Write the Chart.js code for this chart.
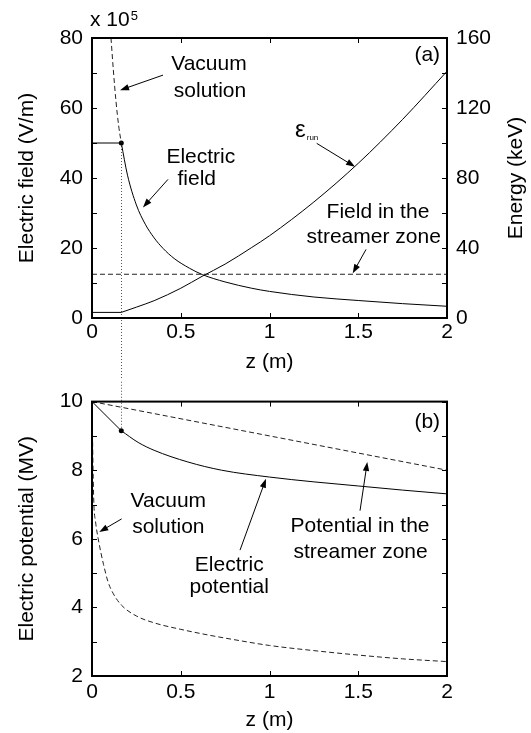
<!DOCTYPE html>
<html>
<head>
<meta charset="utf-8">
<script src="https://cdn.jsdelivr.net/npm/chart.js@4.4.1/dist/chart.umd.min.js"></script>
<style>
  html, body { margin: 0; padding: 0; background: #fff; }
  #wrap { position: relative; width: 531px; height: 733px; }
  canvas { position: absolute; left: 0; }
  #fieldChart { top: 0; }
  #potentialChart { top: 380px; }
</style>
</head>
<body>
<div id="wrap">
  <canvas id="fieldChart" width="531" height="380"></canvas>
  <canvas id="potentialChart" width="531" height="353"></canvas>
</div>
<script>
const zTicks = [0, 0.5, 1, 1.5, 2];
const fieldTicks = [0, 20, 40, 60, 80];
const energyTicks = [0, 40, 80, 120, 160];
const potentialTicks = [2, 4, 6, 8, 10];

// streamer tip position (m)
const zTip = 0.165;

// (a) electric field, x 10^5 V/m
const zPlateau = [0, zTip];
const fieldPlateau = [50, 50];
const zFieldDecay = [0.165, 0.2, 0.25, 0.3, 0.35, 0.4, 0.463, 0.55, 0.622, 0.75, 0.9, 1.0, 1.25, 1.5, 1.75, 2.0];
const fieldDecay = [50, 40.8, 32.3, 26.8, 22.9, 19.9, 17.0, 14.2, 12.4, 10.3, 8.5, 7.6, 6.0, 5.0, 4.1, 3.35];
const zVacuumField = [0.107, 0.12, 0.135, 0.15, 0.165];
const vacuumField = [80, 71, 62, 55, 50];
const zStreamer = [0, 2];
const streamerField = [12.5, 12.5];

// (a) runaway energy, keV
const energyPlateau = [3.2, 3.2];
const zEnergy = [0.165, 0.25, 0.35, 0.5, 0.62, 0.75, 0.9, 1.0, 1.25, 1.5, 1.75, 2.0];
const energy = [3.2, 6.2, 9.9, 17, 23.8, 30.8, 40.3, 47, 66.3, 88.4, 113.5, 141];

// (b) electric potential, MV
const potentialLinear = [10, 9.15];
const zPotential = [0.165, 0.26, 0.35, 0.54, 0.73, 1.0, 1.25, 1.5, 1.75, 2.0];
const potential = [9.15, 8.81, 8.58, 8.24, 8.0, 7.8, 7.66, 7.54, 7.42, 7.31];
const streamerPotential = [10, 8];
const zVacuumPotential = [0, 0.004, 0.01, 0.02, 0.035, 0.05, 0.065, 0.09, 0.12, 0.165, 0.25, 0.35, 0.5, 0.65, 0.8, 1.0, 1.25, 1.5, 1.75, 2.0];
const vacuumPotential = [10, 8.6, 7.1, 6.5, 6.0, 5.6, 5.25, 4.75, 4.4, 4.07, 3.75, 3.55, 3.36, 3.2, 3.06, 2.89, 2.74, 2.61, 2.5, 2.42];

const FONT = '"Liberation Sans", Arial, Helvetica, sans-serif';
const font = { family: FONT, size: 21 };

const pts = (xs, ys) => xs.map((x, i) => ({ x, y: ys[i] }));
const withMinor = t => t.flatMap((v, i) => i ? [(t[i - 1] + v) / 2, v] : [v]);

function line(xs, ys, extra) {
    return Object.assign({
        data: pts(xs, ys), borderColor: "#000", borderWidth: 1, pointRadius: 0,
        fill: false, cubicInterpolationMode: "monotone"
    }, extra);
}
const dashed = { borderDash: [5, 3], borderColor: "#222" };

function arrow(ctx, x1, y1, x2, y2) {
    const ang = Math.atan2(y2 - y1, x2 - x1), len = 9, half = 3.2;
    const c = Math.cos(ang), s = Math.sin(ang);
    ctx.beginPath();
    ctx.moveTo(x1, y1);
    ctx.lineTo(x2 - c * len * 0.7, y2 - s * len * 0.7);
    ctx.stroke();
    ctx.beginPath();
    ctx.moveTo(x2, y2);
    ctx.lineTo(x2 - len * c + half * s, y2 - len * s - half * c);
    ctx.lineTo(x2 - len * c - half * s, y2 - len * s + half * c);
    ctx.closePath();
    ctx.fill();
}

// box around the plot with inward tick marks on all four sides
const boxAxes = {
    id: "boxAxes",
    afterDraw(chart, args, opts) {
        const { ctx, chartArea: a, scales } = chart;
        const yr = scales[opts.rightScale];
        ctx.save();
        ctx.strokeStyle = "#000";
        ctx.lineWidth = 1;
        ctx.beginPath();
        opts.xMarks.forEach(v => {
            const px = Math.round(scales.x.getPixelForValue(v)) + 0.5;
            ctx.moveTo(px, a.bottom); ctx.lineTo(px, a.bottom - 5);
            ctx.moveTo(px, a.top); ctx.lineTo(px, a.top + 5);
        });
        opts.leftMarks.forEach(v => {
            const py = Math.round(scales.y.getPixelForValue(v)) + 0.5;
            ctx.moveTo(a.left, py); ctx.lineTo(a.left + 5, py);
        });
        opts.rightMarks.forEach(v => {
            const py = Math.round(yr.getPixelForValue(v)) + 0.5;
            ctx.moveTo(a.right, py); ctx.lineTo(a.right - 5, py);
        });
        ctx.stroke();
        ctx.lineWidth = 2;
        ctx.strokeRect(a.left, a.top, a.width, a.height);
        ctx.restore();
    }
};

// dotted guide from the streamer tip to the neighbouring panel
const tipGuide = {
    id: "tipGuide",
    beforeDatasetsDraw(chart, args, opts) {
        const { ctx, scales } = chart;
        const px = Math.round(scales.x.getPixelForValue(opts.z)) + 0.5;
        const py = scales.y.getPixelForValue(opts.value);
        ctx.save();
        ctx.strokeStyle = "#555";
        ctx.lineWidth = 1;
        ctx.setLineDash([1, 2]);
        ctx.beginPath();
        ctx.moveTo(px, py);
        ctx.lineTo(px, opts.down ? chart.height : 0);
        ctx.stroke();
        ctx.restore();
    }
};

// text labels, arrows and extra titles
const notes = {
    id: "notes",
    afterDraw(chart, args, opts) {
        const { ctx, chartArea: a, scales } = chart;
        const X = v => scales.x.getPixelForValue(v), Y = v => scales.y.getPixelForValue(v);
        ctx.save();
        ctx.fillStyle = "#000";
        ctx.strokeStyle = "#000";
        ctx.lineWidth = 1;
        ctx.textBaseline = "alphabetic";
        opts.labels.forEach(n => {
            ctx.textAlign = n.align || "center";
            if (n.sub) {
                ctx.textAlign = "left";
                ctx.font = `24px ${FONT}`;
                ctx.fillText(n.text, X(n.z), Y(n.v));
                const w = ctx.measureText(n.text).width;
                ctx.font = `8px ${FONT}`;
                ctx.fillText(n.sub, X(n.z) + w + 1, Y(n.v) + 3);
            } else {
                ctx.font = `21px ${FONT}`;
                ctx.fillText(n.text, X(n.z), Y(n.v));
            }
        });
        opts.arrows.forEach(([z1, v1, z2, v2]) => arrow(ctx, X(z1), Y(v1), X(z2), Y(v2)));
        if (opts.exponent) {
            ctx.textAlign = "left";
            ctx.font = `21px ${FONT}`;
            ctx.fillText("x 10", a.left - 2, a.top - 12);
            const w = ctx.measureText("x 10").width;
            ctx.font = `13px ${FONT}`;
            ctx.fillText("5", a.left - 1 + w, a.top - 18);
        }
        if (opts.rightTitle) {
            ctx.font = `21px ${FONT}`;
            ctx.textAlign = "center";
            ctx.textBaseline = "middle";
            ctx.translate(chart.width - 15, (a.top + a.bottom) / 2);
            ctx.rotate(-Math.PI / 2);
            ctx.fillText(opts.rightTitle, 0, 0);
        }
        ctx.restore();
    }
};

function xScale(tickPad, titlePad, height) {
    return {
        type: "linear", min: 0, max: 2,
        afterBuildTicks: s => { s.ticks = zTicks.map(value => ({ value })); },
        afterFit: s => { s.height = height; },
        grid: { display: false, drawTicks: false },
        border: { display: false },
        ticks: { font, color: "#000", padding: tickPad, maxRotation: 0, callback: v => String(v) },
        title: { display: true, text: "z (m)", font, color: "#000", padding: { top: 0, bottom: titlePad } }
    };
}

function yScale(min, max, ticks, title, position, width) {
    return {
        type: "linear", min, max, position,
        afterBuildTicks: s => { s.ticks = ticks.map(value => ({ value })); },
        afterFit: s => { s.width = width; },
        grid: { display: false, drawTicks: false },
        border: { display: false },
        ticks: { font, color: "#000", padding: 9, callback: v => String(v) },
        title: { display: !!title, text: title, font, color: "#000", padding: { top: 15, bottom: 0 } }
    };
}

const common = {
    responsive: false,
    animation: false,
    events: [],
    plugins: { legend: { display: false }, tooltip: { enabled: false } }
};

new Chart(document.getElementById("fieldChart"), {
    type: "line",
    data: {
        datasets: [
            line(zStreamer, streamerField, dashed),
            line(zVacuumField, vacuumField, dashed),
            line(zPlateau, fieldPlateau, { cubicInterpolationMode: "default", tension: 0 }),
            line(zFieldDecay, fieldDecay),
            line(zPlateau, energyPlateau, { yAxisID: "y1", cubicInterpolationMode: "default", tension: 0 }),
            line(zEnergy, energy, { yAxisID: "y1" }),
            line([zTip], [fieldPlateau[1]], { pointRadius: 2.5, backgroundColor: "#000", borderWidth: 0, showLine: false })
        ]
    },
    options: {
        ...common,
        layout: { padding: { top: 38, left: 0, right: 0, bottom: 0 } },
        scales: {
            x: xScale(2, 5, 62),
            y: yScale(0, 80, fieldTicks, "Electric field (V/m)", "left", 92),
            y1: yScale(0, 160, energyTicks, "", "right", 84)
        },
        plugins: {
            ...common.plugins,
            boxAxes: { xMarks: zTicks, leftMarks: withMinor(fieldTicks), rightMarks: withMinor(energyTicks), rightScale: "y1" },
            tipGuide: { z: zTip, value: fieldPlateau[1], down: true },
            notes: {
                exponent: true,
                rightTitle: "Energy (keV)",
                labels: [
                    { text: "Vacuum", z: 0.659, v: 70.9 },
                    { text: "solution", z: 0.665, v: 63.2 },
                    { text: "Electric", z: 0.613, v: 44.2 },
                    { text: "field", z: 0.59, v: 38.0 },
                    { text: "ε", sub: "run", z: 1.144, v: 51.7 },
                    { text: "(a)", z: 1.961, v: 73.4, align: "right" },
                    { text: "Field in the", z: 1.611, v: 28.5 },
                    { text: "streamer zone", z: 1.587, v: 21.5 }
                ],
                arrows: [
                    [0.4, 69.4, 0.158, 65.1],
                    [0.428, 39.6, 0.287, 31.6],
                    [1.266, 49.9, 1.482, 43.2],
                    [1.544, 19.6, 1.469, 12.8]
                ]
            }
        }
    },
    plugins: [boxAxes, tipGuide, notes]
});

new Chart(document.getElementById("potentialChart"), {
    type: "line",
    data: {
        datasets: [
            line(zStreamer, streamerPotential, dashed),
            line(zVacuumPotential, vacuumPotential, dashed),
            line(zPlateau, potentialLinear, { cubicInterpolationMode: "default", tension: 0 }),
            line(zPotential, potential),
            line([zTip], [potentialLinear[1]], { pointRadius: 2.5, backgroundColor: "#000", borderWidth: 0, showLine: false })
        ]
    },
    options: {
        ...common,
        layout: { padding: { top: 15, left: 0, right: 84, bottom: 0 } },
        scales: {
            x: xScale(4, 0, 57),
            y: yScale(2, 10, potentialTicks, "Electric potential (MV)", "left", 92)
        },
        plugins: {
            ...common.plugins,
            boxAxes: { xMarks: zTicks, leftMarks: withMinor(potentialTicks), rightMarks: withMinor(potentialTicks), rightScale: "y" },
            tipGuide: { z: zTip, value: potentialLinear[1], down: false },
            notes: {
                labels: [
                    { text: "(b)", z: 1.961, v: 9.23, align: "right" },
                    { text: "Vacuum", z: 0.43, v: 6.93 },
                    { text: "solution", z: 0.43, v: 6.16 },
                    { text: "Electric", z: 0.773, v: 5.07 },
                    { text: "potential", z: 0.773, v: 4.42 },
                    { text: "Potential in the", z: 1.51, v: 6.21 },
                    { text: "streamer zone", z: 1.513, v: 5.44 }
                ],
                arrows: [
                    [0.167, 6.58, 0.041, 6.2],
                    [0.834, 5.67, 0.98, 7.75],
                    [1.51, 6.82, 1.551, 8.24]
                ]
            }
        }
    },
    plugins: [boxAxes, tipGuide, notes]
});
</script>
</body>
</html>
